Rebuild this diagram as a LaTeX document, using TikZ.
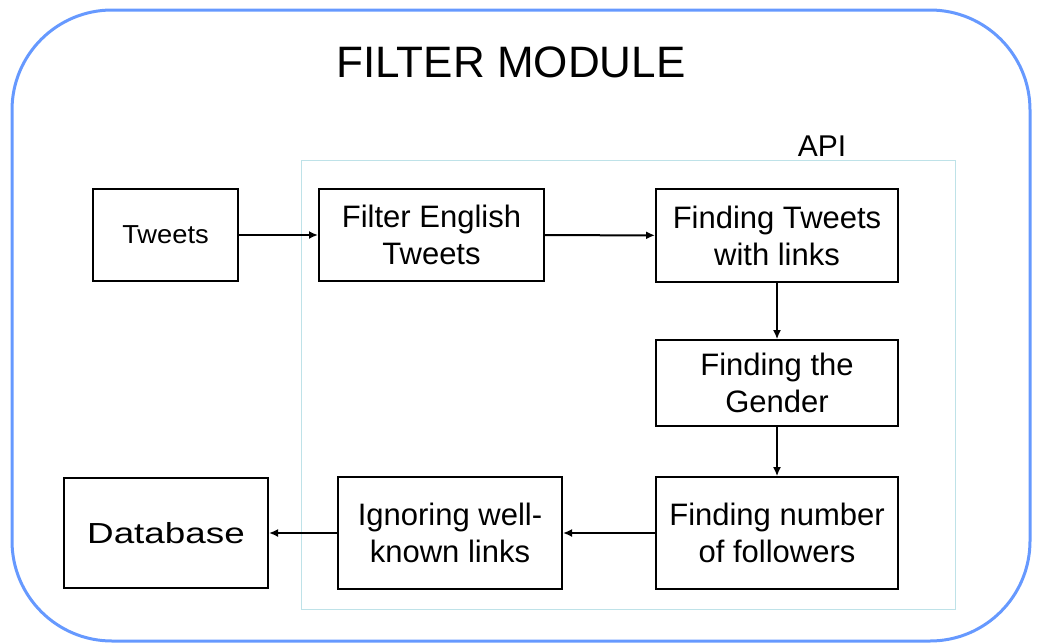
\documentclass[tikz,border=0pt]{standalone}
\usepackage{fontspec}
\setmainfont{Liberation Sans}
\usetikzlibrary{arrows.meta}
\begin{document}
\begin{tikzpicture}[x=1pt,y=-1pt,
  box/.style={draw=black, line width=2pt, fill=white, align=center, inner sep=0pt,
    font=\fontsize{31}{37}\selectfont},
  flow/.style={line width=2pt, -{Latex[length=9pt,width=8pt]}},
  vflow/.style={line width=1.3pt, -{Latex[length=9pt,width=8pt]}}]
\useasboundingbox (0,0) rectangle (1041,643);
% outer module frame
\draw[line width=3pt, draw={rgb,255:red,102;green,153;blue,255}, rounded corners=100pt]
  (12,10) rectangle (1030,641);
\node (title) at (511,62) {\fontsize{44}{50}\selectfont FILTER MODULE};
% API region
\draw[line width=1pt, draw={rgb,255:red,190;green,226;blue,232}] (301,160) rectangle (955,609);
\node (api) at (822,146) {\fontsize{30}{36}\selectfont API};
% processing steps
\node[box, minimum width=145pt, minimum height=92pt, font=\fontsize{26}{32}\selectfont] (tweets) at (165.5,235) {\scalebox{1.05}[1]{Tweets}};
\node[box, minimum width=225pt, minimum height=92pt] (filter) at (431.5,235) {Filter English\\Tweets};
\node[box, minimum width=242pt, minimum height=93pt] (links) at (777,235.5) {Finding Tweets\\with links};
\node[box, minimum width=242pt, minimum height=86pt] (gender) at (777,383) {Finding the\\Gender};
\node[box, minimum width=242pt, minimum height=112pt] (followers) at (777,533) {Finding number\\of followers};
\node[box, minimum width=224pt, minimum height=112pt] (ignore) at (450,533) {Ignoring well-\\known links};
\node[box, minimum width=204pt, minimum height=110pt, font=\fontsize{29}{35}\selectfont] (db) at (166,533) {\scalebox{1.27}[1]{Database}};
% connectors
\draw[flow] (tweets) -- (filter);
\draw[flow] (filter) -- (links);
\draw[vflow] (links) -- (gender);
\draw[vflow] (gender) -- (followers);
\draw[flow] (followers) -- (ignore);
\draw[flow] (ignore) -- (db);
\end{tikzpicture}
\end{document}
